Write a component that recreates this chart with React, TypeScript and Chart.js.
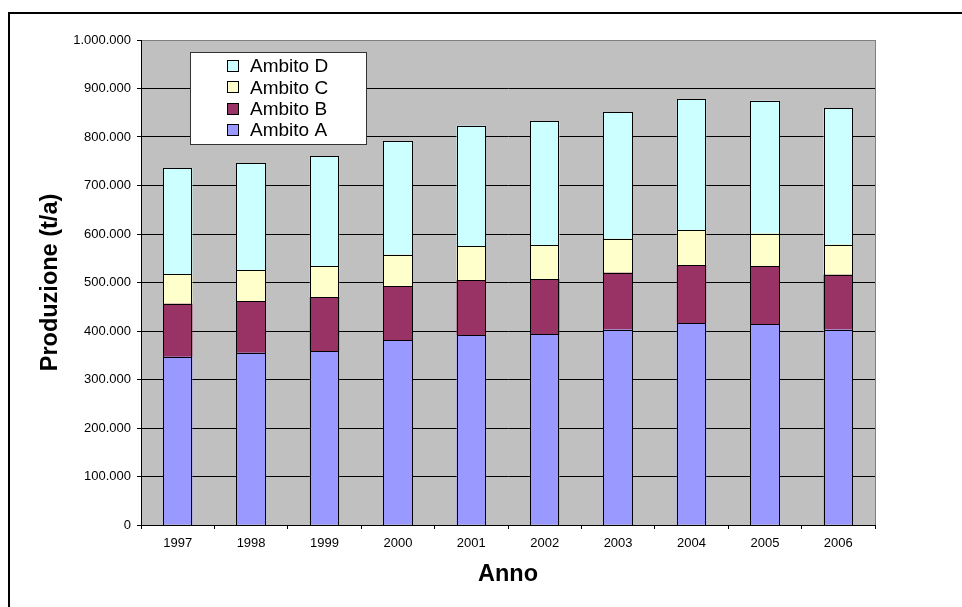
import React, { useEffect, useRef } from "react";
import { Chart, registerables } from "chart.js";

Chart.register(...registerables);

// ---- Data ----
const years = ["1997", "1998", "1999", "2000", "2001", "2002", "2003", "2004", "2005", "2006"];
const ambitoA = [347000, 355000, 359000, 381000, 392000, 393000, 403000, 416000, 414000, 403000];
const ambitoB = [109000, 107000, 111000, 111000, 113000, 114000, 117000, 120000, 120000, 113000];
const ambitoC = [61000, 63000, 63000, 65000, 70000, 70000, 70000, 72000, 67000, 62000];
const ambitoD = [219000, 221000, 228000, 234000, 248000, 256000, 261000, 270000, 274000, 282000];
const seriesLabels = ["Ambito A", "Ambito B", "Ambito C", "Ambito D"];
const seriesColors = ["#9999FF", "#993366", "#FFFFCC", "#CCFFFF"];
const yMin = 0;
const yMax = 1000000;
const yStep = 100000;
const xTitle = "Anno";
const yTitle = "Produzione (t/a)";

const FONT = "'Liberation Sans', Arial, Helvetica, sans-serif";

function formatIt(v: number): string {
  return String(Math.round(v)).replace(/\B(?=(\d{3})+(?!\d))/g, ".");
}

const plotBackground = {
  id: "plotBackground",
  beforeDraw(chart: any) {
    const { ctx, chartArea } = chart;
    const { left, top, right, bottom } = chartArea;
    ctx.save();
    ctx.fillStyle = "#C0C0C0";
    ctx.fillRect(left, top, right - left, bottom - top);
    ctx.strokeStyle = "#808080";
    ctx.lineWidth = 1;
    ctx.strokeRect(left + 0.5, top + 0.5, right - left, bottom - top);
    ctx.restore();
  },
};

// crisp 1px black outline around every bar segment, using the bar elements' own geometry
const barOutlines = {
  id: "barOutlines",
  afterDatasetsDraw(chart: any) {
    const { ctx } = chart;
    ctx.save();
    ctx.strokeStyle = "#000000";
    ctx.lineWidth = 1;
    chart.data.datasets.forEach((_d: any, i: number) => {
      const meta = chart.getDatasetMeta(i);
      meta.data.forEach((el: any) => {
        const l = Math.round(el.x - el.width / 2);
        const r = Math.round(el.x + el.width / 2);
        const t = Math.round(Math.min(el.y, el.base));
        const b = Math.round(Math.max(el.y, el.base));
        ctx.strokeRect(l + 0.5, t + 0.5, r - l - 1, b - t);
      });
    });
    ctx.restore();
  },
};

const boxLegend = {
  id: "boxLegend",
  afterDraw(chart: any) {
    const { ctx, chartArea } = chart;
    const bx = chartArea.left + 49;
    const by = chartArea.top + 12;
    const bw = 176;
    const bh = 92;
    ctx.save();
    ctx.fillStyle = "#FFFFFF";
    ctx.fillRect(bx, by, bw, bh);
    ctx.strokeStyle = "#333333";
    ctx.lineWidth = 1;
    ctx.strokeRect(bx + 0.5, by + 0.5, bw, bh);
    const ds = chart.data.datasets.slice().reverse();
    ctx.font = `19px ${FONT}`;
    ctx.textBaseline = "middle";
    ctx.textAlign = "left";
    ds.forEach((d: any, i: number) => {
      const cy = by + 14 + i * 21.4;
      const sx = bx + 37;
      ctx.fillStyle = d.backgroundColor;
      ctx.fillRect(sx, Math.round(cy - 6), 12, 12);
      ctx.strokeStyle = "#000";
      ctx.strokeRect(sx + 0.5, Math.round(cy - 6) + 0.5, 11, 11);
      ctx.fillStyle = "#000";
      ctx.fillText(d.label, bx + 60, cy + 1);
    });
    ctx.restore();
  },
};

function BarChart() {
  const ref = useRef<HTMLCanvasElement | null>(null);
  useEffect(() => {
    if (!ref.current) return;
    const seriesData = [ambitoA, ambitoB, ambitoC, ambitoD];
    const chart = new Chart(ref.current, {
      type: "bar",
      data: {
        labels: years,
        datasets: seriesLabels.map((label, i) => ({
          label,
          data: seriesData[i],
          backgroundColor: seriesColors[i],
          borderColor: "#000000",
          borderWidth: 0,
          borderSkipped: false,
          barPercentage: 0.4,
          categoryPercentage: 1.0,
        })),
      },
      options: {
        responsive: false,
        animation: false,
        devicePixelRatio: 1,
        layout: { padding: { top: 32, right: 87, left: 0, bottom: 0 } },
        plugins: {
          legend: { display: false },
          tooltip: { enabled: false },
          title: { display: false },
        },
        scales: {
          x: {
            stacked: true,
            afterFit: (s: any) => {
              s.height = 82;
            },
            grid: {
              display: true,
              drawOnChartArea: false,
              drawTicks: true,
              tickLength: 4,
              tickColor: "#000",
              offset: true,
            },
            border: { display: true, color: "#000", width: 1 },
            ticks: {
              font: { family: FONT, size: 13 },
              color: "#000",
              padding: 7,
              maxRotation: 0,
              autoSkip: false,
            },
            title: {
              display: true,
              text: xTitle,
              color: "#000",
              font: { family: FONT, size: 23.5, weight: "bold" },
              padding: { top: 0, bottom: 18 },
            },
          },
          y: {
            stacked: true,
            min: yMin,
            max: yMax,
            afterFit: (s: any) => {
              s.width = 133;
            },
            grid: {
              display: true,
              drawOnChartArea: true,
              drawTicks: true,
              tickLength: 4,
              tickColor: "#000",
              lineWidth: 1,
              color: (c: any) => (c.tick && c.tick.value === yMax ? "#808080" : "#000000"),
            },
            border: { display: true, color: "#000", width: 1 },
            ticks: {
              stepSize: yStep,
              font: { family: FONT, size: 13 },
              color: "#000",
              padding: 6,
              callback: (v: any) => formatIt(Number(v)),
            },
            title: {
              display: true,
              text: yTitle,
              color: "#000",
              font: { family: FONT, size: 23.5, weight: "bold" },
              padding: { top: 28, bottom: 0 },
            },
          },
        },
      },
      plugins: [plotBackground, barOutlines, boxLegend],
    } as any);
    return () => chart.destroy();
  }, []);
  return (
    <canvas
      ref={ref}
      width={954}
      height={599}
      style={{ position: "absolute", left: 8, top: 8, width: 954, height: 599, display: "block" }}
    />
  );
}

export default function App() {
  return (
    <div
      style={{
        position: "fixed",
        left: 0,
        top: 0,
        width: 962,
        height: 607,
        overflow: "hidden",
        background: "#FFFFFF",
      }}
    >
      <div
        style={{
          position: "absolute",
          left: 8,
          top: 12,
          width: 1000,
          height: 700,
          border: "2px solid #000",
          boxSizing: "border-box",
        }}
      />
      <BarChart />
    </div>
  );
}
